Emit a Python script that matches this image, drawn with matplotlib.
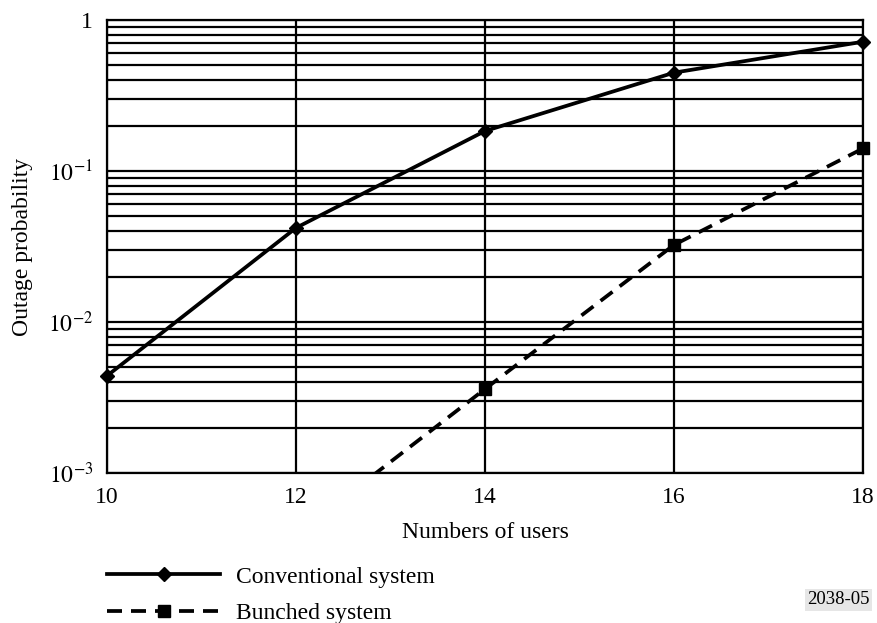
import matplotlib
matplotlib.use("Agg")
import matplotlib.pyplot as plt
from matplotlib.ticker import FixedLocator, NullFormatter
from matplotlib.transforms import Bbox, TransformedBbox

plt.rcParams["font.family"] = ["Liberation Serif", "DejaVu Serif"]
plt.rcParams["mathtext.fontset"] = "stix"

# Outage probability versus number of users
users = [10, 12, 14, 16, 18]
conventional = [0.0044, 0.042, 0.184, 0.448, 0.718]
bunched_users = [12, 14, 16, 18]
bunched = [0.00039, 0.0036, 0.0324, 0.141]

x_ticks = [10, 12, 14, 16, 18]
y_ticks = [1e-3, 1e-2, 1e-1, 1]
y_labels = [r"$10^{-3}$", r"$10^{-2}$", r"$10^{-1}$", "1"]

FS = 17
W, H = 877, 623
fig = plt.figure(figsize=(W / 100, H / 100), dpi=100)
ax = fig.add_axes([107 / W, 1 - 473 / H, 756 / W, 453 / H])

ax.set_yscale("log")
ax.set_xlim(10, 18)
ax.set_ylim(1e-3, 1)

minor = [m * 10.0 ** e for e in (-3, -2, -1) for m in range(2, 10)]
ax.yaxis.set_major_locator(FixedLocator(y_ticks))
ax.yaxis.set_minor_locator(FixedLocator(minor))
ax.yaxis.set_minor_formatter(NullFormatter())
ax.set_yticks(y_ticks, y_labels)
ax.set_xticks(x_ticks)

ax.grid(True, which="both", axis="y", color="black", linewidth=1.6)
ax.grid(True, which="major", axis="x", color="black", linewidth=1.6)
ax.tick_params(which="both", length=0, labelsize=FS)
ax.tick_params(axis="y", pad=10)
ax.tick_params(axis="x", pad=10)
for s in ax.spines.values():
    s.set_linewidth(1.6)

l1, = ax.plot(users, conventional, color="black", linewidth=2.7,
              marker="D", markersize=7.5, label="Conventional system",
              clip_on=False, zorder=5)
l2, = ax.plot(bunched_users, bunched, color="black", linewidth=2.7,
              linestyle=(0, (4, 2.4)), marker="s", markersize=8.5,
              label="Bunched system", zorder=5)
# clip only at the bottom of the plot so the end markers stay whole
l2.set_clip_box(TransformedBbox(Bbox([[9.8, 1e-3], [18.2, 1.5]]),
                                ax.transData))

ax.set_xlabel("Numbers of users", fontsize=FS, labelpad=10)
ax.set_ylabel("Outage probability", fontsize=FS, labelpad=11)

leg = fig.legend(handles=[l1, l2], loc="upper left",
                 bbox_to_anchor=(107 / W, 1 - 566 / H),
                 frameon=False, fontsize=FS, handlelength=4.8,
                 handletextpad=0.68, labelspacing=0.65,
                 borderpad=0, borderaxespad=0)

fig.text(870 / W, 1 - 600 / H, "2038-05", ha="right", va="center",
         fontsize=13.5,
         bbox=dict(facecolor="#e6e6e6", edgecolor="none", pad=1.5))

fig.savefig("out.png", dpi=100)
